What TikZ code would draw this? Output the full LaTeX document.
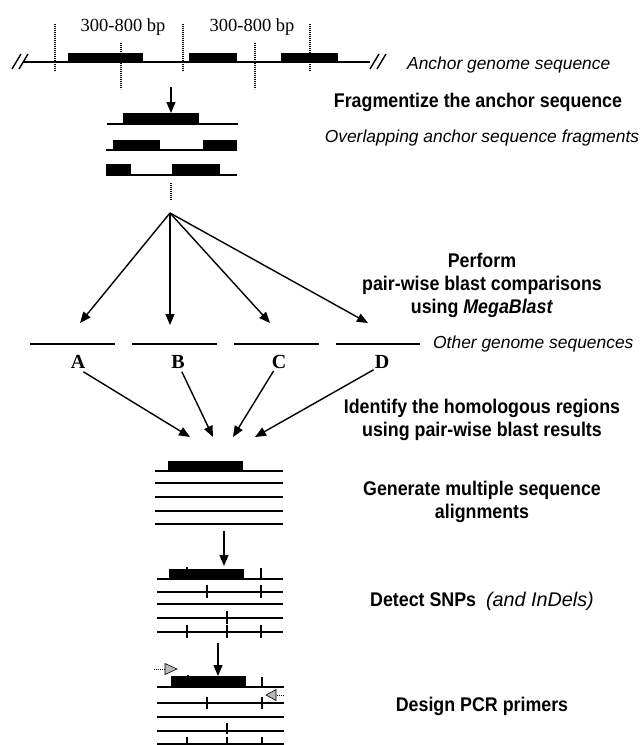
\documentclass[tikz,border=0pt]{standalone}
\usepackage{fontspec}
\setmainfont{Liberation Serif}
\newfontfamily\lsans{Liberation Sans}
\newfontfamily\lsansn{Liberation Sans}[FakeStretch=0.9]
\usetikzlibrary{arrows.meta}
\tikzset{
  seq/.style={line width=1.6pt},
  blk/.style={fill=black},
  vdot/.style={line width=1.4pt, dash pattern=on 1.2pt off 0.8pt},
  arr/.style={line width=1.4pt, -{Triangle[length=11pt,width=9pt]}},
  tick/.style={line width=2pt},
  steptext/.style={font=\lsansn\bfseries\fontsize{19.8}{23}\selectfont, align=center, inner sep=0pt},
  note/.style={font=\lsans\itshape\fontsize{17.4}{21}\selectfont, inner sep=0pt},
  bplabel/.style={font=\fontsize{18.5}{20}\selectfont, inner sep=0pt},
  gname/.style={font=\bfseries\fontsize{20}{22}\selectfont, inner sep=0pt},
  primer/.style={fill=gray!55, draw=black, line width=0.6pt}
}
\begin{document}
\begin{tikzpicture}[x=1pt,y=-1pt]
\useasboundingbox (0,0) rectangle (644,745);

% ---------- anchor genome ----------
\draw[seq] (23,62) -- (370,62);
\draw[line width=1.4pt] (12,69) -- (21,54) (19,69) -- (28,54);
\draw[line width=1.4pt] (370,69) -- (379,54) (377,69) -- (386,54);
\fill[blk] (68,53) rectangle (143,62);
\fill[blk] (189,53) rectangle (237,62);
\fill[blk] (281,53) rectangle (338,62);
\foreach \x in {55,183,310} \draw[vdot] (\x,24) -- (\x,71);
\foreach \x in {121,255} \draw[vdot] (\x,43) -- (\x,89);
\node[bplabel] (bp1) at (123,27) {300-800 bp};
\node[bplabel] (bp2) at (252,27) {300-800 bp};
\node[note, anchor=west] (anchor) at (407,65) {Anchor genome sequence};

% arrow to fragments
\coordinate (a1s) at (171,87);
\coordinate (a1e) at (171,113);
\draw[arr] (a1s) -- (a1e);
\node[steptext] (frag) at (478,102) {Fragmentize the anchor sequence};

% ---------- fragments ----------
\draw[seq] (107,124) -- (238,124);
\fill[blk] (123,113) rectangle (199,124);
\draw[seq] (106,150) -- (237,150);
\fill[blk] (113,140) rectangle (160,150);
\fill[blk] (203,140) rectangle (237,150);
\draw[seq] (106,175) -- (237,175);
\fill[blk] (106,164) rectangle (131,175);
\fill[blk] (172,164) rectangle (220,175);
\draw[vdot] (171,183) -- (171,200);
\node[note] (overlap) at (482,138) {Overlapping anchor sequence fragments};

% ---------- fan to other genomes ----------
\coordinate (apex) at (170,213);
\coordinate (tA) at (80,323);
\coordinate (tB) at (170,325);
\coordinate (tC) at (270,323);
\coordinate (tD) at (368,323);
\foreach \t in {tA,tB,tC,tD} \draw[arr] (apex) -- (\t);
\node[steptext] (perform) at (482,285.5) {Perform\\pair-wise blast comparisons\\using \textit{MegaBlast}};

% other genome lines
\draw[seq] (30,344) -- (115,344);
\draw[seq] (132,344) -- (217,344);
\draw[seq] (234,344) -- (319,344);
\draw[seq] (336,344) -- (420,344);
\node[note, anchor=west] (other) at (433,344) {Other genome sequences};
\node[gname] (A) at (78,362) {A};
\node[gname] (B) at (178,362) {B};
\node[gname] (C) at (279,362) {C};
\node[gname] (D) at (382,362) {D};

% converging arrows
\coordinate (hA) at (190,437);
\coordinate (hB) at (213,437);
\coordinate (hC) at (233,437);
\coordinate (hD) at (255,437);
\draw[arr] (A.south east) ++(-2,3) -- (hA);
\draw[arr] (B.south east) ++(-3,3) -- (hB);
\draw[arr] (C.south west) ++(2,2) -- (hC);
\draw[arr] (D.south west) ++(-1,1) -- (hD);
\node[steptext] (identify) at (482,420) {Identify the homologous regions\\using pair-wise blast results};

% ---------- alignment ----------
\fill[blk] (168,461) rectangle (243,471);
\foreach \y in {471,483,497,511,524} \draw[seq] (155,\y) -- (283,\y);
\node[steptext] (generate) at (482,501.5) {Generate multiple sequence\\alignments};

\coordinate (a2s) at (224,531);
\coordinate (a2e) at (224,566);
\draw[arr] (a2s) -- (a2e);

% ---------- SNPs ----------
\fill[blk] (169,569) rectangle (244,579);
\foreach \y in {579,592,604,618,632} \draw[seq] (157,\y) -- (283,\y);
\draw[tick] (261,568) -- (261,579);
\draw[tick] (187,566.5) -- (187,569);
\foreach \x in {207,261} \draw[tick] (\x,585) -- (\x,598);
\draw[tick] (227,611) -- (227,624);
\foreach \x in {187,227,261} \draw[tick] (\x,625) -- (\x,638);
\node[steptext] (detect) at (482,601) {Detect SNPs\ \ \lsans\textmd{\textit{(and InDels)}}};

\coordinate (a3s) at (218,643);
\coordinate (a3e) at (218,676);
\draw[arr] (a3s) -- (a3e);

% ---------- PCR primers ----------
\fill[blk] (171,676) rectangle (246,687);
\foreach \y in {687,703,717,731,744} \draw[seq] (157,\y) -- (284,\y);
\draw[tick] (262,677) -- (262,687);
\draw[tick] (188,674.5) -- (188,676);
\foreach \x in {207,262} \draw[tick] (\x,697) -- (\x,709);
\draw[tick] (227,723) -- (227,734);
\foreach \x in {187,227,262} \draw[tick] (\x,737) -- (\x,745);
\draw[densely dotted, line width=1pt] (154,669) -- (166,669);
\draw[primer] (165,663.5) -- (177,669) -- (165,674.5) -- cycle;
\draw[densely dotted, line width=1pt] (275,695) -- (285,695);
\draw[primer] (276,689.5) -- (266,695) -- (276,700.5) -- cycle;
\node[steptext] (design) at (482,706) {Design PCR primers};
\end{tikzpicture}
\end{document}
